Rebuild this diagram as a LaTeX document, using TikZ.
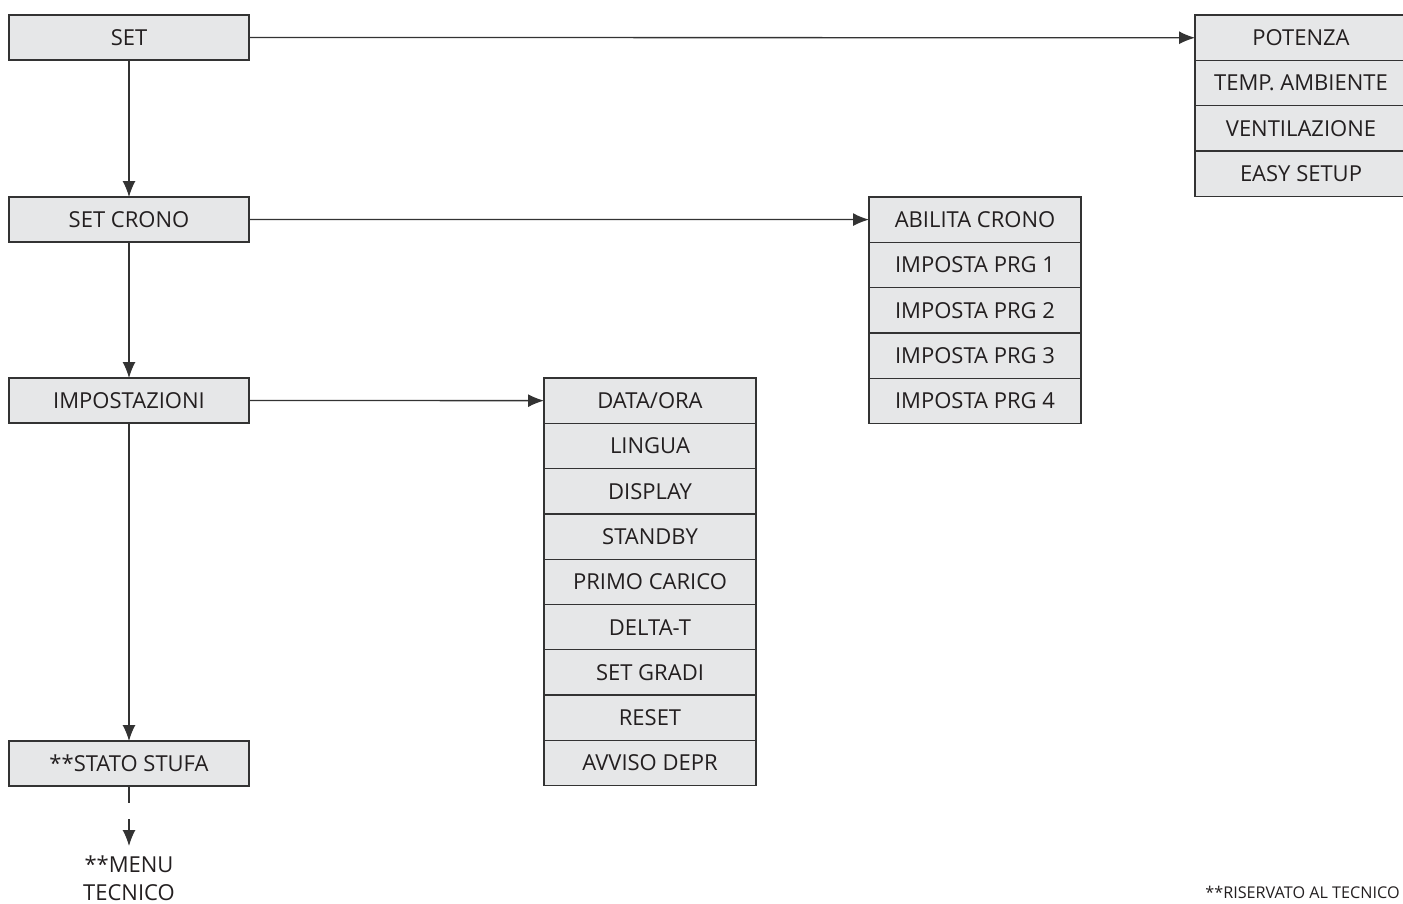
\documentclass[tikz,border=0pt]{standalone}
\usepackage{fontspec}
\setmainfont{Open Sans}
\usepackage{tikz}
\usetikzlibrary{arrows.meta,positioning}

\definecolor{boxfill}{HTML}{E6E7E8}
\definecolor{boxline}{HTML}{333333}
\definecolor{inktext}{HTML}{231F20}

\begin{document}
\begin{tikzpicture}[
    x=0.5pt, y=-0.5pt,
    menubox/.style={draw=boxline, fill=boxfill, line width=0.65pt, align=center, minimum width=120pt, minimum height=22.5pt, inner sep=0pt, outer sep=0pt, font=\fontsize{11}{13}\selectfont, text=inktext},
    subbox/.style={menubox, minimum width=106pt, minimum height=22.65pt},
    arr/.style={-{Latex[length=8pt, width=6.5pt]}, line width=0.65pt, draw=boxline}
  ]
    \useasboundingbox (0,0) rectangle (1403,904);
    % left column
    \node[menubox] (set) at (129,37.5) {SET};
    \node[menubox] (setcrono) at (129,219.5) {SET CRONO};
    \node[menubox] (impost) at (129,400.5) {IMPOSTAZIONI};
    \node[menubox] (stato) at (129,763.5) {**STATO STUFA};
    \draw[arr] (set.south) -- (setcrono.north);
    \draw[arr] (setcrono.south) -- (impost.north);
    \draw[arr] (impost.south) -- (stato.north);
    % SET submenu
    \node[subbox] (potenza) at (1301,37.75) {POTENZA};
    \node[subbox, below=0pt of potenza] (tempamb) {TEMP. AMBIENTE};
    \node[subbox, below=0pt of tempamb] (ventil) {VENTILAZIONE};
    \node[subbox, below=0pt of ventil] (easy) {EASY SETUP};
    \draw[arr] (set.east) -- (potenza.west);
    % SET CRONO submenu
    \node[subbox] (abilita) at (975,219.6) {ABILITA CRONO};
    \node[subbox, below=0pt of abilita] (prg1) {IMPOSTA PRG 1};
    \node[subbox, below=0pt of prg1] (prg2) {IMPOSTA PRG 2};
    \node[subbox, below=0pt of prg2] (prg3) {IMPOSTA PRG 3};
    \node[subbox, below=0pt of prg3] (prg4) {IMPOSTA PRG 4};
    \draw[arr] (setcrono.east) -- (abilita.west);
    % IMPOSTAZIONI submenu
    \node[subbox] (dataora) at (650,400.65) {DATA/ORA};
    \node[subbox, below=0pt of dataora] (lingua) {LINGUA};
    \node[subbox, below=0pt of lingua] (display) {DISPLAY};
    \node[subbox, below=0pt of display] (standby) {STANDBY};
    \node[subbox, below=0pt of standby] (primo) {PRIMO CARICO};
    \node[subbox, below=0pt of primo] (deltat) {DELTA-T};
    \node[subbox, below=0pt of deltat] (gradi) {SET GRADI};
    \node[subbox, below=0pt of gradi] (reset) {RESET};
    \node[subbox, below=0pt of reset] (avviso) {AVVISO DEPR};
    \draw[arr] (impost.east) -- (dataora.west);
    % menu tecnico
    \coordinate (tip) at (129,846);
    \node[align=center, below=4.5pt of tip, font=\fontsize{11}{14}\selectfont, text=inktext, inner sep=0pt] (tecnico) {**MENU\\TECNICO};
    \draw[arr, dash pattern=on 8.5pt off 8pt on 20pt] (stato.south) -- (tip);
    \node[anchor=base east, font=\fontsize{8.1}{10}\selectfont, text=inktext, inner sep=0pt] (riservato) at (1400,898) {**RISERVATO AL TECNICO};
  \end{tikzpicture}
\end{document}
